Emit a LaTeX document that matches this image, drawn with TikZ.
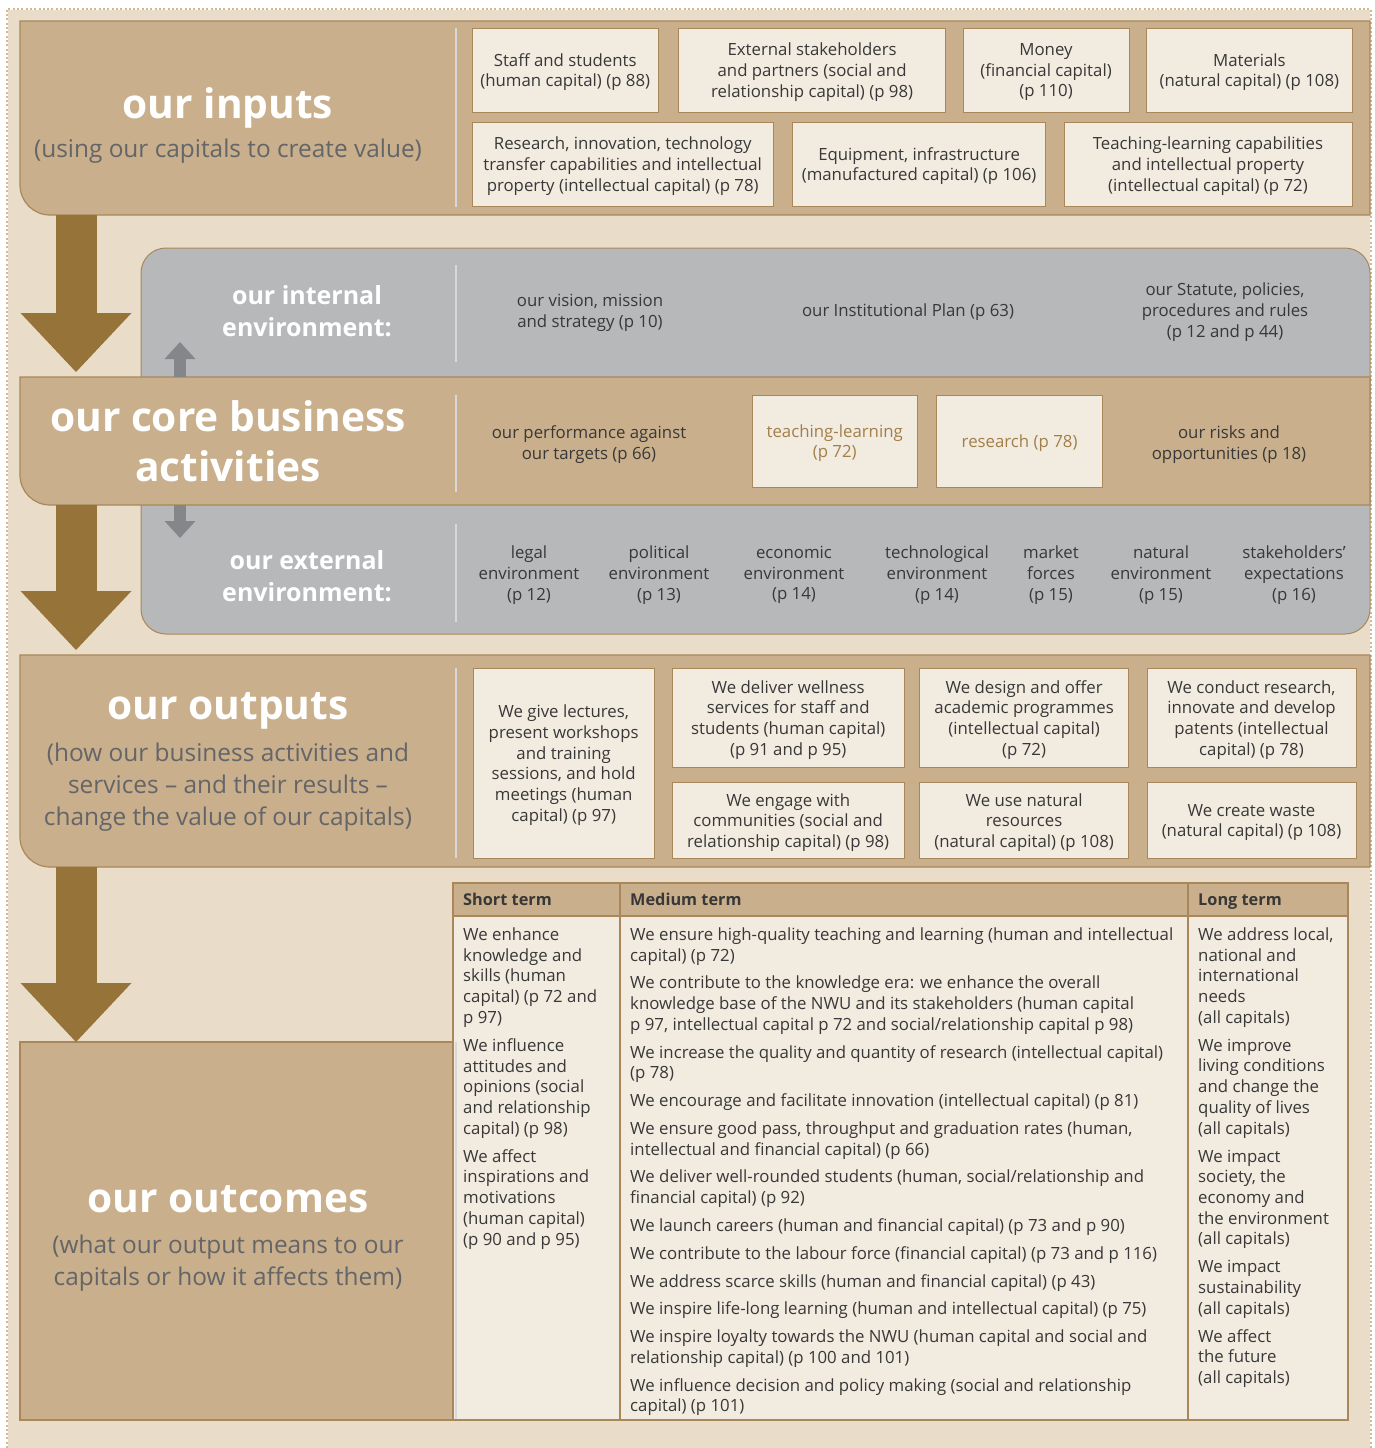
\documentclass[tikz,border=0pt]{standalone}
\usepackage{fontspec}
\setmainfont{Open Sans}
\usepackage{xcolor}
\usepackage{tikz}
\usetikzlibrary{positioning,arrows.meta}

\definecolor{pagebg}{HTML}{E9DDC9}
\definecolor{tanfill}{HTML}{C9AF8B}
\definecolor{tanline}{HTML}{A8885A}
\definecolor{cream}{HTML}{F2EBE0}
\definecolor{arrowbrown}{HTML}{967339}
\definecolor{envgray}{HTML}{B7B8BA}
\definecolor{envarrowgray}{HTML}{85868A}
\definecolor{ink}{HTML}{383838}
\definecolor{subgray}{HTML}{646568}
\definecolor{tanink}{HTML}{A27F4A}
\definecolor{sepline}{HTML}{D8D8D8}
\definecolor{dotline}{HTML}{D0B994}

\newcommand{\bodyfont}{\fontsize{16.8}{20.7}\selectfont}
\newcommand{\tablehead}{\fontsize{16.3}{20.7}\selectfont\bfseries}
\newcommand{\headfont}{\fontsize{40.7}{50}\selectfont\bfseries}
\newcommand{\subfont}{\fontsize{24.4}{32}\selectfont}
\newcommand{\envfont}{\fontsize{25}{31.5}\selectfont\bfseries}

\begin{document}
\begin{tikzpicture}[x=1pt, y=-1pt,
  capbox/.style args = {#1,#2}{draw=tanline, fill=cream, text=ink, font=\bodyfont, align=center, inner sep=0pt, text depth=-1pt, minimum width=#1, minimum height=#2},
  band/.style = {draw=tanline, fill=tanfill, line width=1.2pt},
  envbox/.style = {draw=tanline, fill=envgray, line width=1pt, rounded corners=25pt},
  sep/.style = {draw=sepline, line width=2.2pt},
  bigtitle/.style = {text=white, font=\headfont, align=center, inner sep=0pt},
  subtitle/.style = {text=subgray, font=\subfont, align=center, inner sep=0pt},
  envtitle/.style = {text=white, font=\envfont, align=center, inner sep=0pt},
  plain/.style = {text=ink, font=\bodyfont, align=center, inner sep=0pt, text depth=-1pt},
  flow/.style = {draw=arrowbrown, line width=41pt, -{Triangle[length=59pt, width=111pt, line width=0pt]}},
  envflow/.style = {draw=envarrowgray, line width=12pt, -{Triangle[length=17pt, width=31pt, line width=0pt]}},
  headcell/.style = {text=ink, font=\tablehead, anchor=base west, inner sep=0pt},
  termcol/.style = {text=ink, font=\bodyfont, align=left, anchor=north west, inner sep=0pt}]
\useasboundingbox (0,0) rectangle (1375,1448);
\fill[white] (0,0) rectangle (1375,1448);

% page ground and dotted frame
\fill[pagebg] (8,10) rectangle (1370,1448);
\draw[dotline, line width=2pt, dash pattern=on 2pt off 2.3pt] (7,1448) -- (7,9) -- (1371,9) -- (1371,1448);

% grey environment panel behind the core band
\draw[envbox] (141,248) rectangle (1370,634);

% bands
\draw[band] (1370,21) -- (20,21) -- (20,185) arc[start angle=180, end angle=90, radius=30] -- (1370,215) -- cycle;
\draw[band] (1370,377) -- (20,377) -- (20,475) arc[start angle=180, end angle=90, radius=30] -- (1370,505) -- cycle;
\draw[band] (1370,655) -- (20,655) -- (20,837) arc[start angle=180, end angle=90, radius=30] -- (1370,867) -- cycle;
\draw[band] (20,1042) rectangle (453,1420);

% separators
\draw[sep] (456,28) -- (456,207);
\draw[sep] (456,265) -- (456,362);
\draw[sep] (456,395) -- (456,492);
\draw[sep] (456,524) -- (456,622);
\draw[sep] (456,668) -- (456,858);

% flow arrows
\coordinate (inputsFoot) at (76,215);
\coordinate (coreHead) at (76,372);
\coordinate (coreFoot) at (76,505);
\coordinate (outputsHead) at (76,650);
\coordinate (outputsFoot) at (76,867);
\coordinate (outcomesHead) at (76,1042);
\draw[flow] (inputsFoot) -- (coreHead);
\draw[flow] (coreFoot) -- (outputsHead);
\draw[flow] (outputsFoot) -- (outcomesHead);

\coordinate (coreUp) at (180,377);
\coordinate (internalTip) at (180,342);
\coordinate (coreDown) at (180,505);
\coordinate (externalTip) at (180,538);
\draw[envflow] (coreUp) -- (internalTip);
\draw[envflow] (coreDown) -- (externalTip);

% inputs
\node[bigtitle, anchor=base] (inputsT) at (228,118) {our inputs};
\node[subtitle, anchor=base] (inputsS) at (228,157) {(using our capitals to create value)};

\node[capbox={186pt,84pt}, anchor=north west] (staff) at (472,28) {Staff and students\\(human capital) (p 88)};
\node[capbox={267pt,84pt}, right=20pt of staff] (external) {External stakeholders\\and partners (social and\\relationship capital) (p 98)};
\node[capbox={166pt,84pt}, right=17pt of external] (money) {Money\\(financial capital)\\(p 110)};
\node[capbox={206pt,84pt}, right=17pt of money] (materials) {Materials\\(natural capital) (p 108)};
\node[capbox={301pt,84pt}, anchor=north west] (research) at (472,122) {Research, innovation, technology\\transfer capabilities and intellectual\\property (intellectual capital) (p 78)};
\node[capbox={253pt,84pt}, right=19pt of research] (equipment) {Equipment, infrastructure\\(manufactured capital) (p 106)};
\node[capbox={288pt,84pt}, right=18pt of equipment] (teachcap) {Teaching-learning capabilities\\and intellectual property\\(intellectual capital) (p 72)};

% internal environment
\node[envtitle] (internalT) at (307,311) {our internal\\environment:};
\node[plain] (vision) at (590,310.5) {our vision, mission\\and strategy (p 10)};
\node[plain] (instplan) at (908,310) {our Institutional Plan (p 63)};
\node[plain] (statute) at (1225,310) {our Statute, policies,\\procedures and rules\\(p 12 and p 44)};

% core business activities
\node[bigtitle] (coreT) at (228,441.5) {our core business\\activities};
\node[plain] (performance) at (589,442.5) {our performance against\\our targets (p 66)};
\node[capbox={165pt,92pt}, text=tanink, anchor=north west] (teaching) at (752,395) {teaching-learning\\(p 72)};
\node[capbox={166pt,92pt}, text=tanink, right=19pt of teaching] (researchcore) {research (p 78)};
\node[plain] (risks) at (1229,442.5) {our risks and\\opportunities (p 18)};

% external environment
\node[envtitle] (externalT) at (307,576) {our external\\environment:};
\node[plain] (legal) at (529,573) {legal\\environment\\(p 12)};
\node[plain] (political) at (659,573) {political\\environment\\(p 13)};
\node[plain] (economic) at (794,573) {economic\\environment\\(p 14)};
\node[plain] (technological) at (937,573) {technological\\environment\\(p 14)};
\node[plain] (market) at (1051,573) {market\\forces\\(p 15)};
\node[plain] (natural) at (1161,573) {natural\\environment\\(p 15)};
\node[plain] (stakeholders) at (1294,573) {stakeholders’\\expectations\\(p 16)};

% outputs
\node[bigtitle, anchor=base] (outputsT) at (228,719) {our outputs};
\node[subtitle] (outputsS) at (228,787) {(how our business activities and\\services – and their results –\\change the value of our capitals)};

\node[capbox={181pt,190pt}, anchor=north west] (lectures) at (473,668) {We give lectures,\\present workshops\\and training\\sessions, and hold\\meetings (human\\capital) (p 97)};
\node[capbox={232pt,99pt}, anchor=north west] (wellness) at (672,668) {We deliver wellness\\services for staff and\\students (human capital)\\(p 91 and p 95)};
\node[capbox={209pt,99pt}, right=15pt of wellness] (design) {We design and offer\\academic programmes\\(intellectual capital)\\(p 72)};
\node[capbox={209pt,99pt}, right=18pt of design] (conduct) {We conduct research,\\innovate and develop\\patents (intellectual\\capital) (p 78)};
\node[capbox={232pt,76pt}, below=15pt of wellness] (engage) {We engage with\\communities (social and\\relationship capital) (p 98)};
\node[capbox={209pt,76pt}, below=15pt of design] (resources) {We use natural\\resources\\(natural capital) (p 108)};
\node[capbox={209pt,76pt}, below=15pt of conduct] (waste) {We create waste\\(natural capital) (p 108)};

% outcomes
\node[bigtitle, anchor=base] (outcomesT) at (228,1212) {our outcomes};
\node[subtitle] (outcomesS) at (228,1263) {(what our output means to our\\capitals or how it affects them)};

% outcomes table
\fill[tanfill] (453,883) rectangle (1348,916);
\fill[cream] (453,916) rectangle (1348,1420);
\draw[sep] (456,1042) -- (456,1420);
\draw[tanline, line width=1.2pt] (453,883) rectangle (1348,1420);
\draw[tanline, line width=1.2pt] (453,916) -- (1348,916);
\draw[tanline, line width=1.2pt] (620,883) -- (620,1420);
\draw[tanline, line width=1.2pt] (1188,883) -- (1188,1420);

\node[headcell] (shortH) at (463,905.5) {Short term};
\node[headcell] (mediumH) at (630,905.5) {Medium term};
\node[headcell] (longH) at (1198,905.5) {Long term};

\node[termcol] (shortC) at (463,927.5) {We enhance\\knowledge and\\skills (human\\capital) (p 72 and\\p 97)\\[7.4pt]
We influence\\attitudes and\\opinions (social\\and relationship\\capital) (p 98)\\[7.4pt]
We affect\\inspirations and\\motivations\\(human capital)\\(p 90 and p 95)};

\node[termcol] (mediumC) at (630,927.5) {We ensure high-quality teaching and learning (human and intellectual\\capital) (p 72)\\[7.1pt]
We contribute to the knowledge era: we enhance the overall\\knowledge base of the NWU and its stakeholders (human capital\\p 97, intellectual capital p 72 and social/relationship capital p 98)\\[7.1pt]
We increase the quality and quantity of research (intellectual capital)\\(p 78)\\[7.1pt]
We encourage and facilitate innovation (intellectual capital) (p 81)\\[7.1pt]
We ensure good pass, throughput and graduation rates (human,\\intellectual and financial capital) (p 66)\\[7.1pt]
We deliver well-rounded students (human, social/relationship and\\financial capital) (p 92)\\[7.1pt]
We launch careers (human and financial capital) (p 73 and p 90)\\[7.1pt]
We contribute to the labour force (financial capital) (p 73 and p 116)\\[7.1pt]
We address scarce skills (human and financial capital) (p 43)\\[7.1pt]
We inspire life-long learning (human and intellectual capital) (p 75)\\[7.1pt]
We inspire loyalty towards the NWU (human capital and social and\\relationship capital) (p 100 and 101)\\[7.1pt]
We influence decision and policy making (social and relationship\\capital) (p 101)};

\node[termcol] (longC) at (1198,927.5) {We address local,\\national and\\international\\needs\\(all capitals)\\[7.3pt]
We improve\\living conditions\\and change the\\quality of lives\\(all capitals)\\[7.3pt]
We impact\\society, the\\economy and\\the environment\\(all capitals)\\[7.3pt]
We impact\\sustainability\\(all capitals)\\[7.3pt]
We affect\\the future\\(all capitals)};
\end{tikzpicture}
\end{document}
